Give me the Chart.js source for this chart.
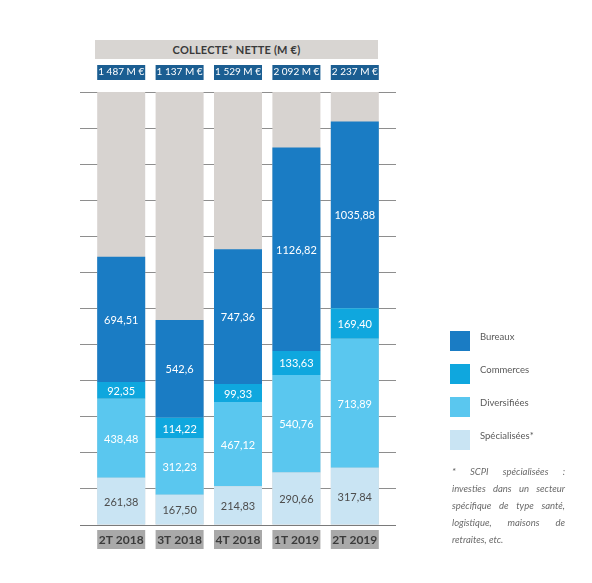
<!DOCTYPE html>
<html lang="fr">
<head>
<meta charset="utf-8">
<script src="https://cdn.jsdelivr.net/npm/chart.js@4.4.1/dist/chart.umd.min.js"></script>
<style>
  html, body { margin: 0; padding: 0; background: #fff; }
  #wrap { position: relative; width: 592px; height: 583px; overflow: hidden; }
  #c { position: absolute; left: 0; top: 0; }
  .title { position: absolute; left: 95px; top: 40px; width: 283px; height: 19px; background: #d8d5d2;
           font: bold 11px Lato, sans-serif; color: #3a3a3a; text-align: center; line-height: 19px; letter-spacing: 0.2px; }
  .leg { position: absolute; left: 450px; height: 20px; }
  .leg .sw { position: absolute; left: 0; top: 0; width: 20px; height: 20px; }
  .leg .tx { position: absolute; left: 30px; top: 0; line-height: 20px; font: 9.5px Lato, sans-serif; color: #5a5a5a; white-space: nowrap; }
  .note { position: absolute; left: 452px; top: 463px; width: 113px; font: italic 9.5px Lato, sans-serif; color: #6a6a6a; }
  .note div { line-height: 17px; text-align: justify; text-align-last: justify; white-space: nowrap; }
  .note div.last { text-align-last: left; }
</style>
</head>
<body>
<div id="wrap">
  <canvas id="c" width="592" height="583"></canvas>
  <div class="title">COLLECTE* NETTE (M €)</div>
  <div id="legend"></div>
  <div class="note">
    <div>*&nbsp; SCPI&nbsp; spécialisées&nbsp; :</div>
    <div>investies dans un secteur</div>
    <div>spécifique de type santé,</div>
    <div>logistique,&nbsp; maisons&nbsp; de</div>
    <div class="last">retraites, etc.</div>
  </div>
</div>
<script>
// ---- data ----
const categories = ['2T 2018', '3T 2018', '4T 2018', '1T 2019', '2T 2019'];
const totalLabels = ['1 487 M €', '1 137 M €', '1 529 M €', '2 092 M €', '2 237 M €'];
const specialisees = ['261.38', '167.50', '214.83', '290.66', '317.84'];
const diversifiees = ['438.48', '312.23', '467.12', '540.76', '713.89'];
const commerces = ['92.35', '114.22', '99.33', '133.63', '169.40'];
const bureaux = ['694.51', '542.6', '747.36', '1126.82', '1035.88'];
const scaleMax = 2400;
const fullScale = [2400, 2400, 2400, 2400, 2400];

const seriesNames = ['Spécialisées*', 'Diversifiées', 'Commerces', 'Bureaux'];
const colors = {
  'Bureaux': '#1a7cc4',
  'Commerces': '#0fa7de',
  'Diversifiées': '#5ac7ef',
  'Spécialisées*': '#c9e4f3'
};
const labelColors = ['#4d4d4d', '#ffffff', '#ffffff', '#ffffff'];

// ---- HTML legend (top to bottom) ----
const legendOrder = ['Bureaux', 'Commerces', 'Diversifiées', 'Spécialisées*'];
const legTops = [331, 364, 397, 430];
const legEl = document.getElementById('legend');
legendOrder.forEach((n, i) => {
  const d = document.createElement('div');
  d.className = 'leg';
  d.style.top = legTops[i] + 'px';
  d.innerHTML = '<div class="sw" style="background:' + colors[n] + '"></div><div class="tx">' + n + '</div>';
  legEl.appendChild(d);
});

const FONT = 'Lato, sans-serif';

// boxes behind axis labels
const boxPlugin = {
  id: 'boxes',
  beforeDraw(chart) {
    const ctx = chart.ctx;
    const meta = chart.getDatasetMeta(1);
    const ca = chart.chartArea;
    ctx.save();
    meta.data.forEach(el => {
      const l = el.x - el.width / 2;
      ctx.fillStyle = '#1b5e92';
      ctx.fillRect(l, ca.top - 27, el.width, 15);
      ctx.fillStyle = '#a9a9a9';
      ctx.fillRect(l, ca.bottom + 5, el.width, 19);
    });
    ctx.restore();
  }
};

// value labels inside segments
const valuePlugin = {
  id: 'values',
  afterDatasetsDraw(chart) {
    const ctx = chart.ctx;
    ctx.save();
    ctx.font = '11px ' + FONT;
    ctx.textAlign = 'center';
    ctx.textBaseline = 'middle';
    for (let d = 1; d <= 4; d++) {
      const ds = chart.data.datasets[d];
      const meta = chart.getDatasetMeta(d);
      meta.data.forEach((el, i) => {
        const txt = String(ds.data[i]).replace('.', ',');
        ctx.fillStyle = labelColors[d - 1];
        ctx.fillText(txt, el.x, (el.y + el.base) / 2 + 1);
      });
    }
    ctx.restore();
  }
};

const seriesData = [specialisees, diversifiees, commerces, bureaux];

const datasets = [{
  label: 'fond',
  data: fullScale,
  backgroundColor: '#d7d3d0',
  stack: 'fond',
  grouped: false,
  order: 1
}];
seriesNames.forEach((n, i) => {
  datasets.push({
    label: n,
    data: seriesData[i],
    backgroundColor: colors[n],
    stack: 'main',
    order: 0
  });
});

new Chart(document.getElementById('c'), {
  type: 'bar',
  data: { labels: categories, datasets },
  plugins: [boxPlugin, valuePlugin],
  options: {
    responsive: false,
    animation: false,
    events: [],
    layout: { padding: { left: 80, right: 196, top: 52, bottom: 27.6 } },
    categoryPercentage: 0.822,
    barPercentage: 1,
    plugins: { legend: { display: false }, tooltip: { enabled: false }, title: { display: false } },
    scales: {
      x: {
        stacked: true,
        position: 'bottom',
        grid: { display: false, drawTicks: false },
        border: { display: false },
        ticks: { padding: 8, color: '#3b3b3b', font: { family: FONT, size: 12, weight: 'bold' }, maxRotation: 0 }
      },
      x2: {
        type: 'category',
        labels: totalLabels,
        position: 'top',
        offset: true,
        grid: { display: false, drawTicks: false },
        border: { display: false },
        ticks: { padding: 14, color: '#ffffff', font: { family: FONT, size: 10 }, maxRotation: 0 }
      },
      y: {
        stacked: true,
        min: 0,
        max: scaleMax,
        position: 'left',
        border: { display: false },
        grid: {
          color: ctx => ctx.tick && ctx.tick.value === 0 ? '#7a7a7a' : '#8e8e8e',
          lineWidth: 1,
          tickLength: 12,
          drawTicks: true
        },
        ticks: { display: false, stepSize: 200 }
      },
      y2: {
        min: 0,
        max: scaleMax,
        position: 'right',
        border: { display: false },
        grid: {
          drawOnChartArea: false,
          color: ctx => ctx.tick && ctx.tick.value === 0 ? '#7a7a7a' : '#8e8e8e',
          tickLength: 12,
          drawTicks: true
        },
        ticks: { display: false, stepSize: 200 }
      }
    }
  }
});
</script>
</body>
</html>
